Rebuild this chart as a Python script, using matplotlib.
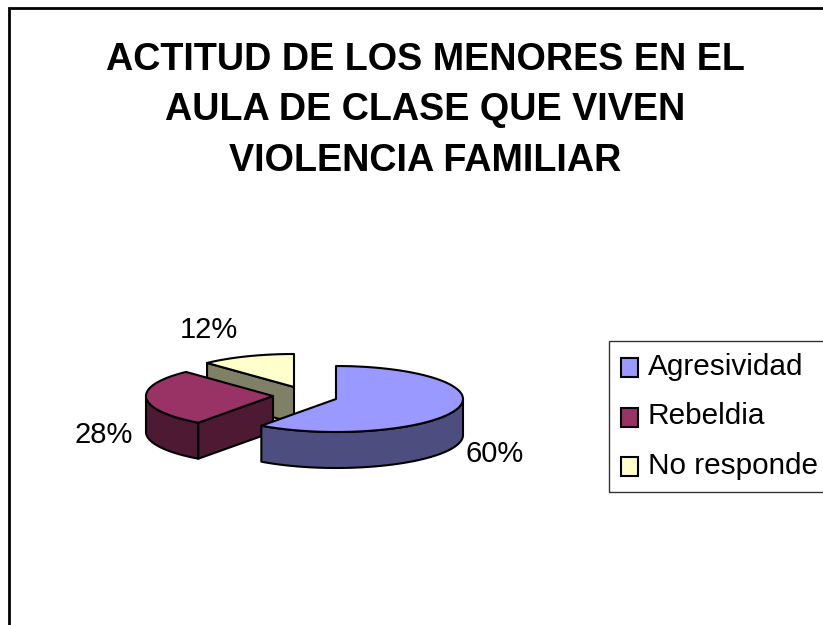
import numpy as np
import matplotlib
matplotlib.use("Agg")
import matplotlib.pyplot as plt
from matplotlib.legend_handler import HandlerPatch
from matplotlib.patches import Patch, Polygon, Rectangle

CATEGORIES = ["Agresividad", "Rebeldia", "No responde"]
VALUES = [60, 28, 12]
TITLE = "ACTITUD DE LOS MENORES EN EL\nAULA DE CLASE QUE VIVEN\nVIOLENCIA FAMILIAR"

TOP_COLORS = ["#9999FF", "#993366", "#FFFFCC"]
SIDE_COLORS = ["#4D4D80", "#4D1933", "#808066"]
CENTERS = [(336, 399), (273, 396), (294, 387)]
LABEL_POS = [(495, 454), (104, 435), (209, 330)]

RX, RY = 127, 33
DEPTH = 36
LW = 1.5

plt.rcParams["font.family"] = ["Liberation Sans", "DejaVu Sans"]


def arc(center, a0, a1):
    # angles are clockwise from 12 o'clock, y axis points down
    t = np.radians(np.linspace(a0, a1, 80))
    return np.column_stack([center[0] + RX * np.sin(t), center[1] - RY * np.cos(t)])


def draw_slice(ax, center, a0, a1, top, side):
    c = np.array(center, dtype=float)
    down = np.array([0, DEPTH])

    # outer rim, only the front half shows
    lo, hi = max(a0, 90), min(a1, 270)
    if lo < hi:
        rim = arc(center, lo, hi)
        ax.add_patch(Polygon(np.vstack([rim, (rim + down)[::-1]]), facecolor=side,
                             edgecolor="black", lw=LW, joinstyle="round"))

    # the cut wall at the start angle faces the viewer on the left half
    if 180 <= a0 < 360:
        rim = arc(center, a0, a0)[0]
        wall = [c, rim, rim + down, c + down]
        ax.add_patch(Polygon(wall, facecolor=side, edgecolor="black", lw=LW, joinstyle="round"))

    pts = np.vstack([[c], arc(center, a0, a1)])
    ax.add_patch(Polygon(pts, facecolor=top, edgecolor="black", lw=LW, joinstyle="round"))


def low_swatch(legend, orig_handle, xdescent, ydescent, width, height, fontsize):
    # swatches sit a little below the text centre
    return Rectangle((-xdescent, -ydescent - 2.5), width, height)


fig = plt.figure(figsize=(8.23, 6.25), dpi=100)
ax = fig.add_axes([0, 0, 1, 1])
ax.set_xlim(0, 823)
ax.set_ylim(625, 0)
ax.axis("off")

# outer chart frame, cut off on the right and bottom
ax.plot([9, 9, 830], [630, 8, 8], color="black", lw=2.0, solid_joinstyle="miter")

ax.text(425, 110.5, TITLE, ha="center", va="center", fontsize=27.2,
        fontweight="bold", linespacing=1.52)

total = sum(VALUES)
edges = np.concatenate([[0], np.cumsum(VALUES)]) / total * 360
for i in [2, 1, 0]:
    draw_slice(ax, CENTERS[i], edges[i], edges[i + 1], TOP_COLORS[i], SIDE_COLORS[i])

for v, (x, y) in zip(VALUES, LABEL_POS):
    ax.text(x, y, f"{v}%", ha="center", va="center", fontsize=21)

handles = [Patch(facecolor=c, edgecolor="black", lw=LW) for c in TOP_COLORS]
ax.legend(handles, CATEGORIES, loc="upper left", bbox_to_anchor=(609, 341),
          bbox_transform=ax.transData, borderaxespad=0, fontsize=21.4,
          fancybox=False, framealpha=1, edgecolor="#333333",
          borderpad=0.4, handlelength=0.58, handleheight=0.6,
          handletextpad=0.32, labelspacing=0.72,
          handler_map={Patch: HandlerPatch(patch_func=low_swatch)})

fig.savefig("out.png", dpi=100)
